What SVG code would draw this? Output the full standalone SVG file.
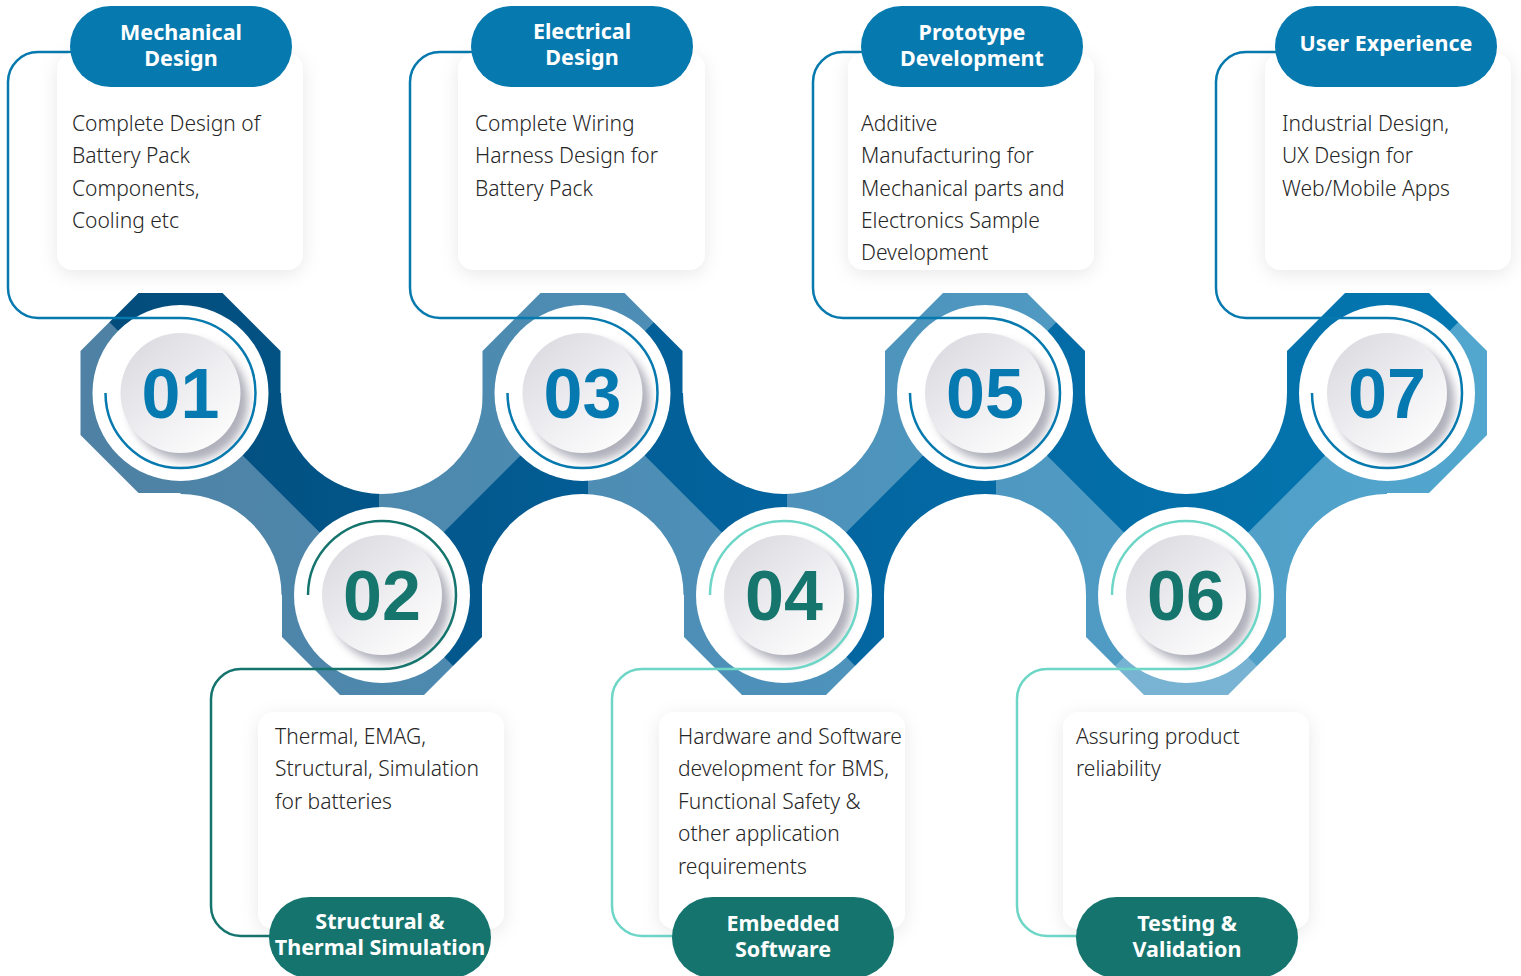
<svg xmlns="http://www.w3.org/2000/svg" width="1521" height="976" viewBox="0 0 1521 976">
<defs>
<style>
.body{font-family:"Noto Sans","Open Sans","Liberation Sans",sans-serif;font-size:21px;font-weight:300;fill:#262626}
.ttl{font-family:"Noto Sans","Open Sans","Liberation Sans",sans-serif;font-size:21.5px;font-weight:700;fill:#ffffff;text-anchor:middle}
.num{font-family:"Liberation Sans",Arial,sans-serif;font-size:70px;font-weight:700;text-anchor:middle}
.numT{fill:#0679b0}.numB{fill:#16766e}
.ring{fill:#ffffff}
.btn{fill:url(#btnGrad)}
.btnSh{fill:#9d9dab;opacity:0.8;filter:url(#blur4)}
.card{fill:#ffffff;filter:url(#cardShadow)}
.pillT{fill:#0679ae}.pillB{fill:#15756e}
.conn{fill:none;stroke-width:2.5}
.cBlue{stroke:#0679ae}.cTeal{stroke:#15756e}.cMint{stroke:#6dd6c6}
</style>
<linearGradient id="lightG" gradientUnits="userSpaceOnUse" x1="80" y1="0" x2="1490" y2="0">
<stop offset="0" stop-color="#4e81a3"/><stop offset="0.5" stop-color="#4d91ba"/><stop offset="1" stop-color="#52a7cf"/>
</linearGradient>
<linearGradient id="darkG" gradientUnits="userSpaceOnUse" x1="80" y1="0" x2="1490" y2="0">
<stop offset="0" stop-color="#024b79"/><stop offset="0.5" stop-color="#03649f"/><stop offset="1" stop-color="#0478b1"/>
</linearGradient>
<linearGradient id="paleG" x1="0" y1="0" x2="0" y2="1">
<stop offset="0" stop-color="#6eaed0"/><stop offset="1" stop-color="#86bad7"/>
</linearGradient>
<linearGradient id="btnGrad" x1="0.15" y1="0.1" x2="0.85" y2="0.9">
<stop offset="0" stop-color="#dcdce2"/><stop offset="0.55" stop-color="#efeff2"/><stop offset="1" stop-color="#fcfcfc"/>
</linearGradient>
<filter id="blur4" x="-30%" y="-30%" width="160%" height="160%"><feGaussianBlur stdDeviation="4"/></filter>
<filter id="cardShadow" x="-20%" y="-20%" width="140%" height="140%"><feDropShadow dx="0" dy="4" stdDeviation="9" flood-color="#000" flood-opacity="0.09"/></filter>
<polygon id="oct" points="-42,-100 42,-100 100,-42 100,42 42,100 -42,100 -100,42 -100,-42"/>
<mask id="bandMask" maskUnits="userSpaceOnUse" x="0" y="0" width="1521" height="976">
<rect x="180.5" y="393" width="1206.5" height="202" fill="#fff"/>
<g fill="#000">
<circle cx="382" cy="393" r="101"/><circle cx="784" cy="393" r="101"/><circle cx="1186" cy="393" r="101"/>
<circle cx="180.5" cy="595" r="101"/><circle cx="582.5" cy="595" r="101"/><circle cx="985" cy="595" r="101"/><circle cx="1387" cy="595" r="101"/>
</g>
<g fill="#fff">
<use href="#oct" x="180.5" y="393"/><use href="#oct" x="382" y="595"/><use href="#oct" x="582.5" y="393"/><use href="#oct" x="784" y="595"/><use href="#oct" x="985" y="393"/><use href="#oct" x="1186" y="595"/><use href="#oct" x="1387" y="393"/>
</g>
</mask>
</defs>
<rect width="1521" height="976" fill="#ffffff"/>

<g id="band" mask="url(#bandMask)">
<rect x="0" y="250" width="1521" height="500" fill="url(#lightG)"/>
<g fill="url(#darkG)">
<polygon points="0,0 379,0 379,591.75 0,212.75"/>
<polygon points="381.6,594.4 588,388 588,800.75"/>
<polygon points="582.6,393.4 787,189 787,597.75"/>
<polygon points="783.9,594.6 996,382.5 996,806.75"/>
<polygon points="985,393.5 1186,192.5 1186,594.5"/>
<polygon points="1186,0 1600,0 1600,180.5 1186,594.5"/>
</g>
<polygon points="1186,595 986,795 1386,795" fill="url(#paleG)"/>
</g>

<g id="nodes">
<g id="node-01"><circle class="ring" cx="180.5" cy="393" r="88"/><circle class="btnSh" cx="188" cy="401" r="60"/><circle class="btn" cx="180.5" cy="393" r="60"/><text class="num numT" x="180.5" y="418">01</text></g>
<g id="node-02"><circle class="ring" cx="382" cy="595" r="88"/><circle class="btnSh" cx="389.5" cy="603" r="60"/><circle class="btn" cx="382" cy="595" r="60"/><text class="num numB" x="382" y="620">02</text></g>
<g id="node-03"><circle class="ring" cx="582.5" cy="393" r="88"/><circle class="btnSh" cx="590" cy="401" r="60"/><circle class="btn" cx="582.5" cy="393" r="60"/><text class="num numT" x="582.5" y="418">03</text></g>
<g id="node-04"><circle class="ring" cx="784" cy="595" r="88"/><circle class="btnSh" cx="791.5" cy="603" r="60"/><circle class="btn" cx="784" cy="595" r="60"/><text class="num numB" x="784" y="620">04</text></g>
<g id="node-05"><circle class="ring" cx="985" cy="393" r="88"/><circle class="btnSh" cx="992.5" cy="401" r="60"/><circle class="btn" cx="985" cy="393" r="60"/><text class="num numT" x="985" y="418">05</text></g>
<g id="node-06"><circle class="ring" cx="1186" cy="595" r="88"/><circle class="btnSh" cx="1193.5" cy="603" r="60"/><circle class="btn" cx="1186" cy="595" r="60"/><text class="num numB" x="1186" y="620">06</text></g>
<g id="node-07"><circle class="ring" cx="1387" cy="393" r="88"/><circle class="btnSh" cx="1394.5" cy="401" r="60"/><circle class="btn" cx="1387" cy="393" r="60"/><text class="num numT" x="1387" y="418">07</text></g>
</g>

<g id="connectors">
<path class="conn cBlue" d="M72,52 H38 A30,30 0 0 0 8,82 V288 A30,30 0 0 0 38,318 H180.5 A75,75 0 1 1 105.5,393"/>
<path class="conn cBlue" d="M473,52 H440 A30,30 0 0 0 410,82 V288 A30,30 0 0 0 440,318 H582.5 A75,75 0 1 1 507.5,393"/>
<path class="conn cBlue" d="M863,52 H843 A30,30 0 0 0 813,82 V288 A30,30 0 0 0 843,318 H985 A75,75 0 1 1 910,393"/>
<path class="conn cBlue" d="M1277,52 H1246 A30,30 0 0 0 1216,82 V288 A30,30 0 0 0 1246,318 H1387 A75,75 0 1 1 1312,393"/>
<path class="conn cTeal" d="M308,595 A74,74 0 1 1 382,669 H241 A30,30 0 0 0 211,699 V906 A30,30 0 0 0 241,936 H272"/>
<path class="conn cMint" d="M710,595 A74,74 0 1 1 784,669 H642 A30,30 0 0 0 612,699 V906 A30,30 0 0 0 642,936 H675"/>
<path class="conn cMint" d="M1112,595 A74,74 0 1 1 1186,669 H1047 A30,30 0 0 0 1017,699 V906 A30,30 0 0 0 1047,936 H1079"/>
</g>

<g id="card-01">
<rect class="card" x="57" y="53" width="246" height="217" rx="16"/>
<rect class="pillT" x="70" y="6" width="222" height="81" rx="40.5"/>
<text class="ttl" x="181" y="40">Mechanical</text><text class="ttl" x="181" y="66">Design</text>
<text class="body" x="72"><tspan x="72" y="130.5">Complete Design of</tspan><tspan x="72" y="163">Battery Pack</tspan><tspan x="72" y="195.5">Components,</tspan><tspan x="72" y="228">Cooling etc</tspan></text>
</g>
<g id="card-03">
<rect class="card" x="458" y="53" width="247" height="217" rx="16"/>
<rect class="pillT" x="471" y="6" width="222" height="81" rx="40.5"/>
<text class="ttl" x="582" y="39">Electrical</text><text class="ttl" x="582" y="65">Design</text>
<text class="body" x="475"><tspan x="475" y="130.5">Complete Wiring</tspan><tspan x="475" y="163">Harness Design for</tspan><tspan x="475" y="195.5">Battery Pack</tspan></text>
</g>
<g id="card-05">
<rect class="card" x="848" y="53" width="246" height="217" rx="16"/>
<rect class="pillT" x="861" y="6" width="222" height="81" rx="40.5"/>
<text class="ttl" x="972" y="40">Prototype</text><text class="ttl" x="972" y="66">Development</text>
<text class="body" x="861"><tspan x="861" y="130.5">Additive</tspan><tspan x="861" y="163">Manufacturing for</tspan><tspan x="861" y="195.5">Mechanical parts and</tspan><tspan x="861" y="228">Electronics Sample</tspan><tspan x="861" y="260">Development</tspan></text>
</g>
<g id="card-07">
<rect class="card" x="1265" y="53" width="246" height="217" rx="16"/>
<rect class="pillT" x="1275" y="6" width="222" height="81" rx="40.5"/>
<text class="ttl" x="1386" y="51">User Experience</text>
<text class="body" x="1282"><tspan x="1282" y="130.5">Industrial Design,</tspan><tspan x="1282" y="163">UX Design for</tspan><tspan x="1282" y="195.5">Web/Mobile Apps</tspan></text>
</g>
<g id="card-02">
<rect class="card" x="258" y="712" width="246" height="217" rx="16"/>
<rect class="pillB" x="269" y="897" width="222" height="81" rx="40.5"/>
<text class="ttl" x="380" y="929">Structural &amp;</text><text class="ttl" x="380" y="955">Thermal Simulation</text>
<text class="body" x="275"><tspan x="275" y="743.5">Thermal, EMAG,</tspan><tspan x="275" y="776">Structural, Simulation</tspan><tspan x="275" y="808.5">for batteries</tspan></text>
</g>
<g id="card-04">
<rect class="card" x="659" y="712" width="246" height="217" rx="16"/>
<rect class="pillB" x="672" y="897" width="222" height="81" rx="40.5"/>
<text class="ttl" x="783" y="931">Embedded</text><text class="ttl" x="783" y="957">Software</text>
<text class="body" x="678"><tspan x="678" y="743.5">Hardware and Software</tspan><tspan x="678" y="776">development for BMS,</tspan><tspan x="678" y="808.5">Functional Safety &amp;</tspan><tspan x="678" y="841">other application</tspan><tspan x="678" y="873.5">requirements</tspan></text>
</g>
<g id="card-06">
<rect class="card" x="1063" y="712" width="246" height="217" rx="16"/>
<rect class="pillB" x="1076" y="897" width="222" height="81" rx="40.5"/>
<text class="ttl" x="1187" y="931">Testing &amp;</text><text class="ttl" x="1187" y="957">Validation</text>
<text class="body" x="1076"><tspan x="1076" y="743.5">Assuring product</tspan><tspan x="1076" y="776">reliability</tspan></text>
</g>
</svg>
